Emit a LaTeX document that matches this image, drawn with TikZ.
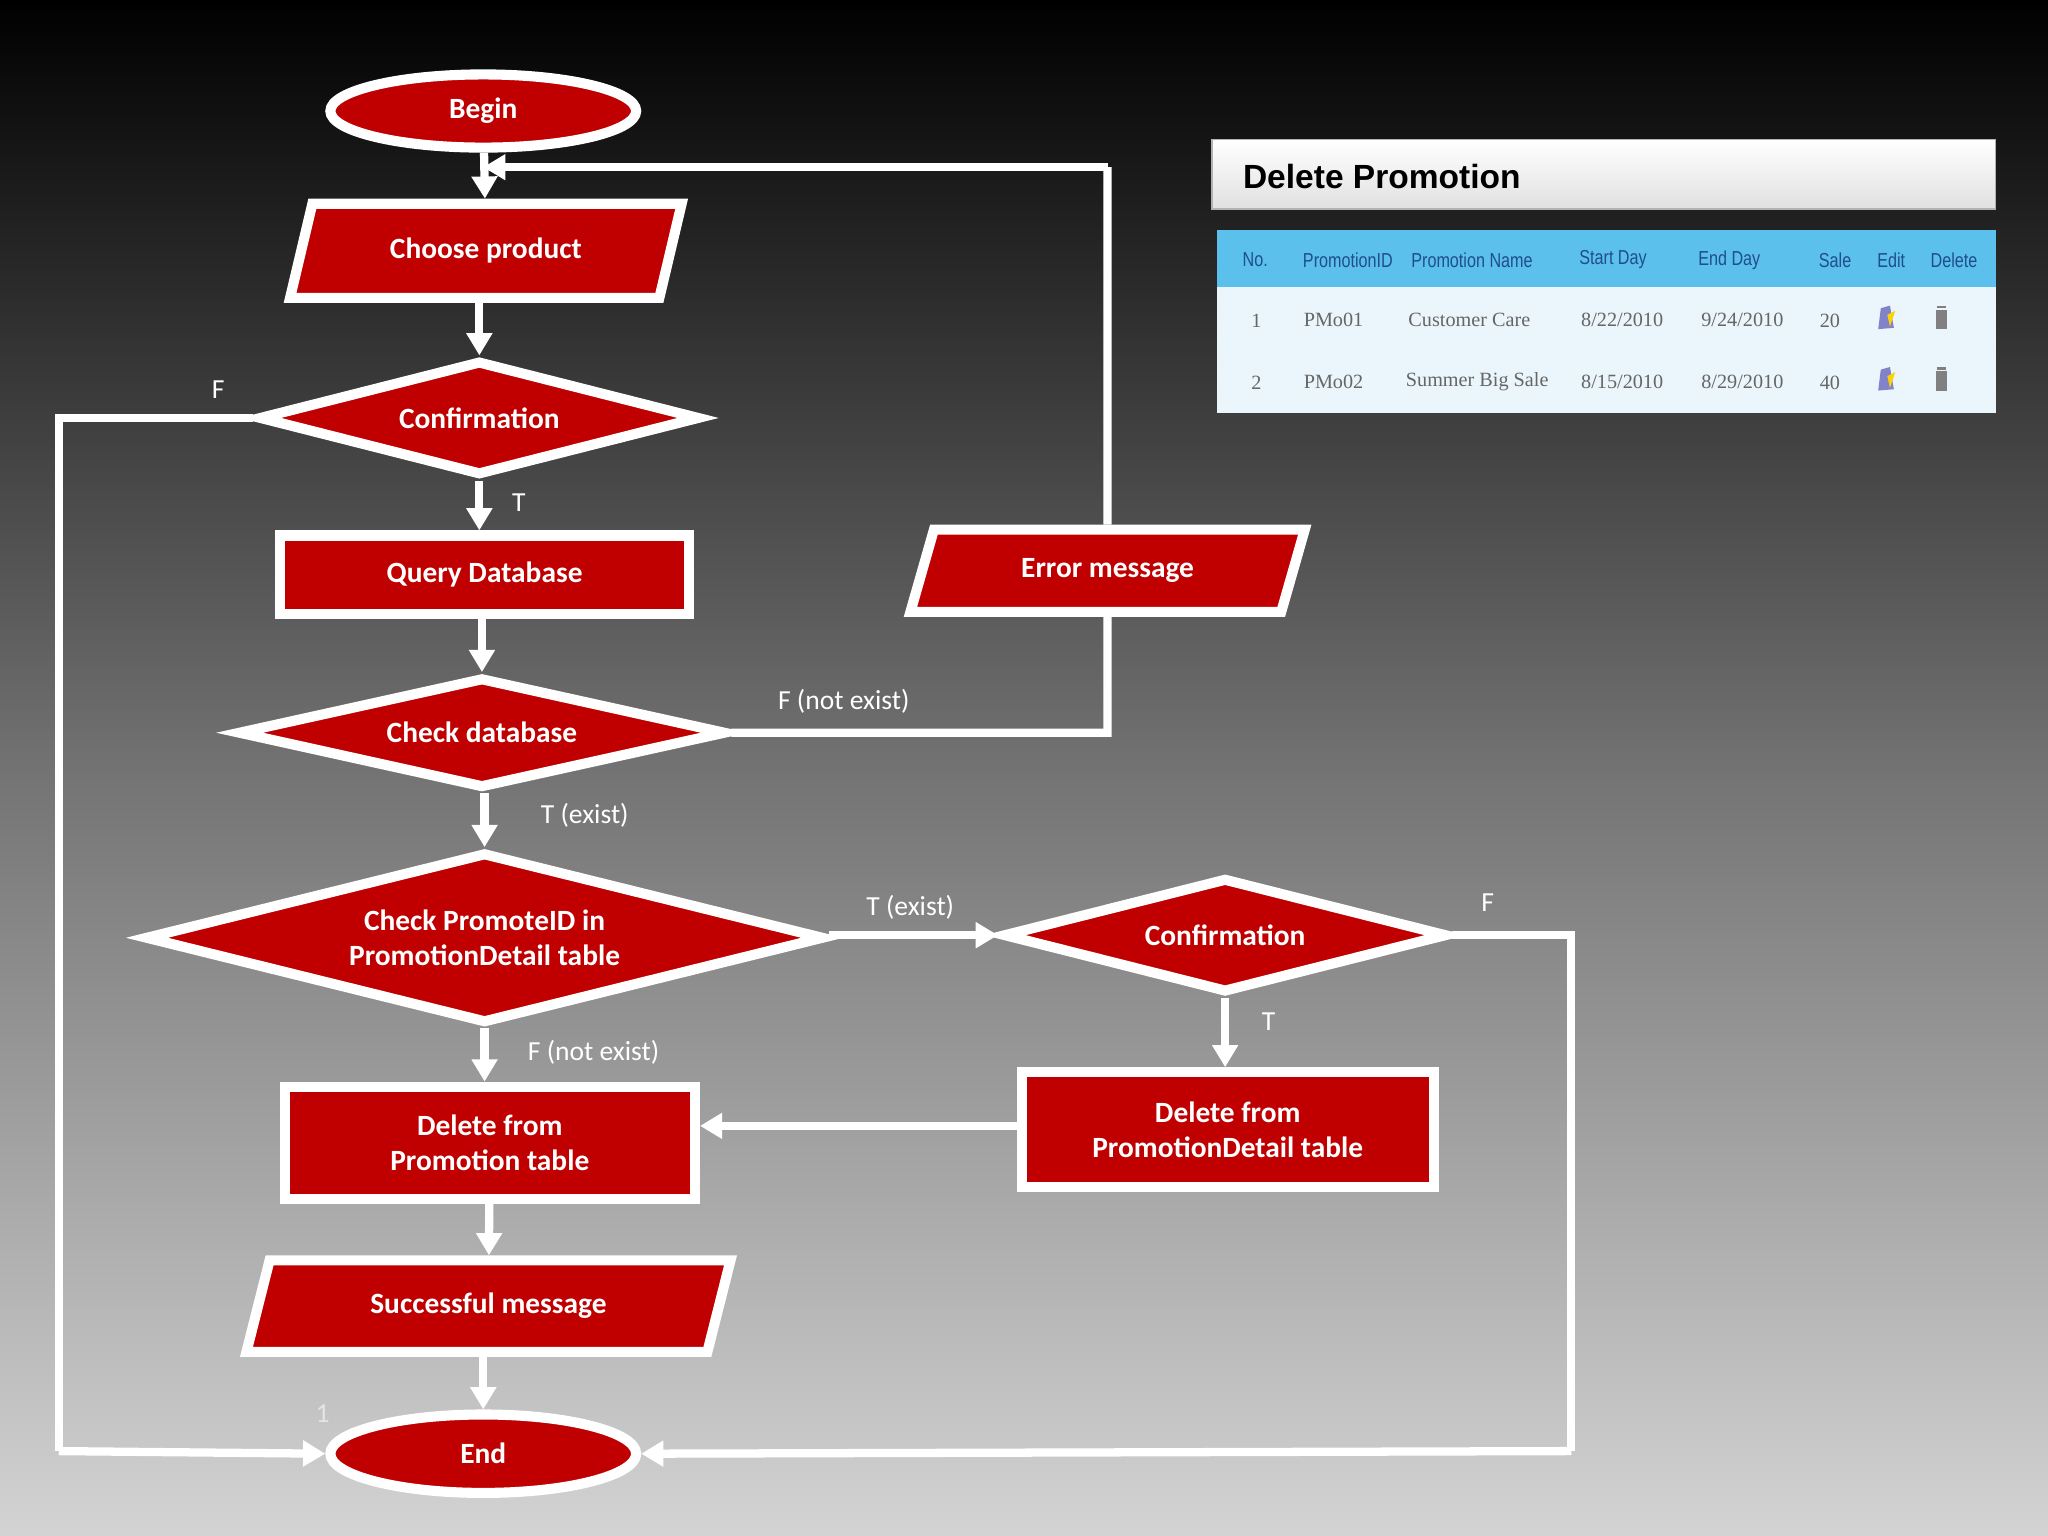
\documentclass[tikz,border=0pt]{standalone}
\usepackage{fontspec}
\setmainfont{Carlito}
\newfontfamily\hdr{Liberation Sans}
\newfontfamily\tblser{Liberation Serif}
\newfontfamily\tblsans{Liberation Sans}[FakeStretch=0.8]
\usetikzlibrary{shapes.geometric,arrows.meta}
\definecolor{fred}{HTML}{C00000}
\definecolor{hblue}{HTML}{5BC0EB}
\definecolor{rowc}{HTML}{EAF5FC}
\definecolor{htxt}{HTML}{1F4E8C}
\tikzset{
 base/.style={fill=fred,draw=white,line width=2.2pt,text=white,font=\bfseries\fontsize{6.4}{7.6}\selectfont,align=center,inner sep=0pt},
 term/.style={base,ellipse,minimum width=2.34cm,minimum height=0.56cm},
 proc/.style={base,rectangle,minimum width=3.1cm,minimum height=0.6cm},
 io/.style={base,trapezium,trapezium left angle=64,trapezium right angle=116,trapezium stretches=true,minimum height=0.72cm},
 dec/.style n args={3}{base,diamond,inner sep=0pt,shape aspect=#3,minimum width=#1cm,minimum height=#2cm},
 con/.style={draw=white,line width=1.8pt,-{Triangle[length=0.17cm,width=0.19cm]}},
 lnk/.style={draw=white,line width=1.8pt},
 lab/.style={text=white,font=\fontsize{6}{7}\selectfont,inner sep=0pt},
 th/.style={text=htxt,font=\tblsans\fontsize{4.4}{5}\selectfont,inner sep=0pt},
 td/.style={text=gray!80!black,font=\tblser\fontsize{4.4}{5}\selectfont,inner sep=0pt}
}
\begin{document}
\begin{tikzpicture}[x=0.01cm,y=-0.01cm]
\shade[top color=black,bottom color=black!17,middle color=black!55] (0,0) rectangle (1568,1176);
\useasboundingbox (0,0) rectangle (1568,1176);
% nodes
\node[term] (begin) at (370,85) {Begin};
\node[io,minimum width=3.0cm] (choose) at (372,192) {Choose product};
\node[dec={3.38}{0.88}{3.84}] (conf1) at (367,320) {Confirmation};
\node[proc,minimum width=3.13cm] (query) at (371,440) {Query Database};
\node[dec={3.74}{0.85}{4.4}] (check) at (369,561) {Check database};
\node[dec={5.2}{1.31}{3.97}] (cpid) at (371,718) {Check PromoteID in\\PromotionDetail table};
\node[proc,minimum width=3.14cm,minimum height=0.86cm] (delp) at (375,875) {Delete from\\Promotion table};
\node[io,minimum width=3.72cm,minimum height=0.7cm] (succ) at (374,1000) {Successful message};
\node[term,minimum height=0.6cm] (end) at (370,1113) {End};
\node[io,minimum width=3.03cm,minimum height=0.63cm] (err) at (848,437) {Error message};
\node[dec={3.4}{0.88}{3.86}] (conf2) at (938,716) {Confirmation};
\node[proc,minimum width=3.15cm,minimum height=0.88cm] (deld) at (940,865) {Delete from\\PromotionDetail table};
\coordinate (j1) at (370,128);
\coordinate (c1) at (45,320);
\coordinate (c2) at (45,1111);
\coordinate (e1) at (848,561);
\coordinate (e2) at (848,128);
\coordinate (f1) at (1203,716);
\coordinate (f2) at (1203,1111);
% connectors
\draw[con] (begin) -- (choose);
\draw[con] (choose.south -| conf1.north) -- (conf1.north);
\draw[con] (conf1) -- node[lab,right=0.22cm,pos=0.45]{T} (query.north -| conf1.south);
\draw[con] (query.south -| check.north) -- (check.north);
\draw[con] (check.south -| cpid.north) -- node[lab,right=0.4cm,pos=0.4]{T (exist)} (cpid.north);
\draw[con] (cpid.south) -- node[lab,right=0.3cm,pos=0.45]{F (not exist)} (delp.north -| cpid.south);
\draw[con] (delp) -- (succ);
\draw[con] (end.north |- succ.south) -- (end.north);
\draw[lnk] (conf1.west) -- (c1) -- (c2);
\draw[con] (c2) -- (end.west);
\node[lab] at (167,298) {F};
\node[lab,text=white!80!gray] at (247,1082) {1};
\draw[lnk] (check.east) -- (e1) -- (err.south);
\node[lab] at (646,537) {F (not exist)};
\draw[lnk] (err.north) -- (e2);
\draw[con] (e2) -- (j1);
\draw[con] (cpid.east |- conf2.west) -- node[lab,above=0.09cm,pos=0.48]{T (exist)} (conf2.west);
\draw[con] (conf2.south) -- node[lab,right=0.25cm,pos=0.35]{T} (deld.north -| conf2.south);
\draw[lnk] (conf2.east) -- (f1) -- (f2);
\draw[con] (f2) -- (end.east);
\node[lab] at (1139,691) {F};
\draw[con] ([yshift=0.03cm]deld.west) -- ([yshift=0.03cm]deld.west -| delp.east);
% table panel
\shade[top color=white,bottom color=black!12,draw=black!30,line width=0.3pt] (928,107) rectangle (1528,160);
\node[anchor=west,inner sep=0pt,font=\hdr\bfseries\fontsize{7.3}{8}\selectfont,text=black] (title) at (951,135) {Delete Promotion};
\fill[rowc] (932,176) rectangle (1528,316);
\fill[hblue] (932,176) rectangle (1528,220);
\draw[white!85!hblue,line width=0.3pt] (932,268) -- (1528,268);
\node[th] (h1) at (961,199) {No.};
\node[th] (h2) at (1032,199) {PromotionID};
\node[th] (h3) at (1127,199) {Promotion Name};
\node[th] (h4) at (1235,199) {Start Day};
\node[th] (h5) at (1324,199) {End Day};
\node[th] (h6) at (1405,199) {Sale};
\node[th] (h7) at (1448,199) {Edit};
\node[th] (h8) at (1496,199) {Delete};
\node[td] (a1) at (962,246) {1};
\node[td] (a2) at (1021,245) {PMo01};
\node[td] (a3) at (1125,245) {Customer Care};
\node[td] (a4) at (1242,245) {8/22/2010};
\node[td] (a5) at (1334,245) {9/24/2010};
\node[td] (a6) at (1401,246) {20};
\node[td] (b1) at (962,293) {2};
\node[td] (b2) at (1021,292) {PMo02};
\node[td] (b3) at (1131,292) {Summer Big Sale};
\node[td] (b4) at (1242,292) {8/15/2010};
\node[td] (b5) at (1334,292) {8/29/2010};
\node[td] (b6) at (1401,293) {40};
\foreach \yy in {243,290}{
 \fill[blue!40!gray!70] (1438,\yy+9) -- (1440,\yy-7) -- (1447,\yy-9) -- (1450,\yy+8) -- cycle;
 \fill[yellow!70!orange] (1445,\yy-2) -- (1451,\yy-5) -- (1447,\yy+7) -- cycle;
 \fill[gray] (1482,\yy-6) rectangle (1491,\yy+9);
 \fill[gray] (1483,\yy-9) rectangle (1490,\yy-7);
}
\end{tikzpicture}
\end{document}
